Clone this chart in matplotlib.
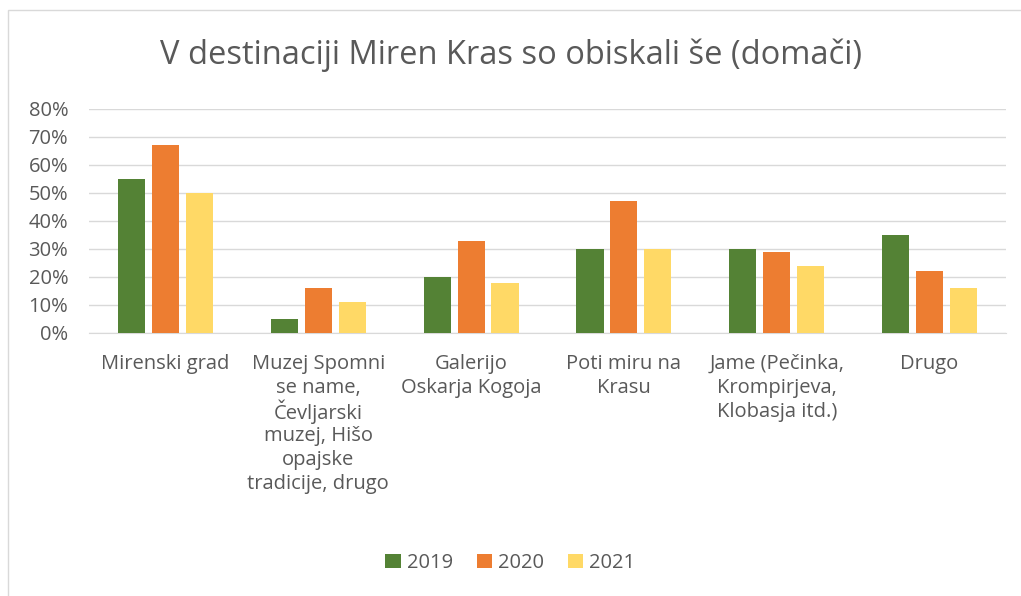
import numpy as np
import matplotlib
matplotlib.use("Agg")
import matplotlib.pyplot as plt
from matplotlib.patches import Rectangle

plt.rcParams['font.family'] = ['Open Sans', 'DejaVu Sans']

categories = ["Mirenski grad",
              "Muzej Spomni\nse name,\nČevljarski\nmuzej, Hišo\nopajske\ntradicije, drugo",
              "Galerijo\nOskarja Kogoja",
              "Poti miru na\nKrasu",
              "Jame (Pečinka,\nKrompirjeva,\nKlobasja itd.)",
              "Drugo"]
years = ["2019", "2020", "2021"]
v2019 = [0.55, 0.05, 0.20, 0.30, 0.30, 0.35]
v2020 = [0.67, 0.16, 0.33, 0.47, 0.29, 0.22]
v2021 = [0.50, 0.11, 0.18, 0.30, 0.24, 0.16]
colors = ["#548235", "#ED7D31", "#FFD966"]
grey = "#595959"

fig = plt.figure(figsize=(10.21, 5.96), dpi=100)
# chart frame
fig.patches.append(Rectangle((8/1021, -0.1), 1.2, 1 - 10/596 + 0.1, transform=fig.transFigure,
                             fill=False, edgecolor="#d9d9d9", linewidth=1))
ax = fig.add_axes([89/1021, 1 - 333/596, (1006 - 89)/1021, (333 - 109)/596])

x = np.arange(len(categories))
w = 0.177
step = 0.222
for i, (vals, col, lab) in enumerate(zip([v2019, v2020, v2021], colors, years)):
    ax.bar(x + (i - 1)*step, vals, width=w, color=col, label=lab, zorder=3)

ax.set_xlim(-0.5, len(categories) - 0.5)
ax.set_ylim(0, 0.8)
ax.set_yticks(np.arange(0, 0.81, 0.1))
ax.set_yticklabels([f"{int(round(t*100))}%" for t in np.arange(0, 0.81, 0.1)])
ax.grid(axis="y", color="#d9d9d9", linewidth=1, zorder=0)
for s in ["top", "right", "left"]:
    ax.spines[s].set_visible(False)
ax.spines["bottom"].set_color("#d9d9d9")
ax.tick_params(axis="both", length=0, colors=grey, labelsize=14.5)
ax.tick_params(axis="y", pad=15)
ax.set_xticks(x)
ax.set_xticklabels([])

# category labels, one line at a time so the spacing stays even
px = 0.72
for xi, cat in zip(x, categories):
    for k, line in enumerate(cat.split("\n")):
        ax.annotate(line, xy=(xi, 0), xycoords=ax.get_xaxis_transform(),
                    xytext=(0, -(31 + 24*k)*px), textcoords="offset points",
                    ha="center", va="center", fontsize=14.5, color=grey)

fig.text(0.5, 1 - 55/596, "V destinaciji Miren Kras so obiskali še (domači)",
         ha="center", va="center", fontsize=23.5, color=grey)

fig.legend(loc="center", bbox_to_anchor=(0.5, 1 - 563/596), ncol=3, frameon=False,
           fontsize=14.5, labelcolor=grey, handlelength=0.75, handleheight=0.75,
           handletextpad=0.3, columnspacing=1.2)

fig.savefig("out.png", dpi=100)
